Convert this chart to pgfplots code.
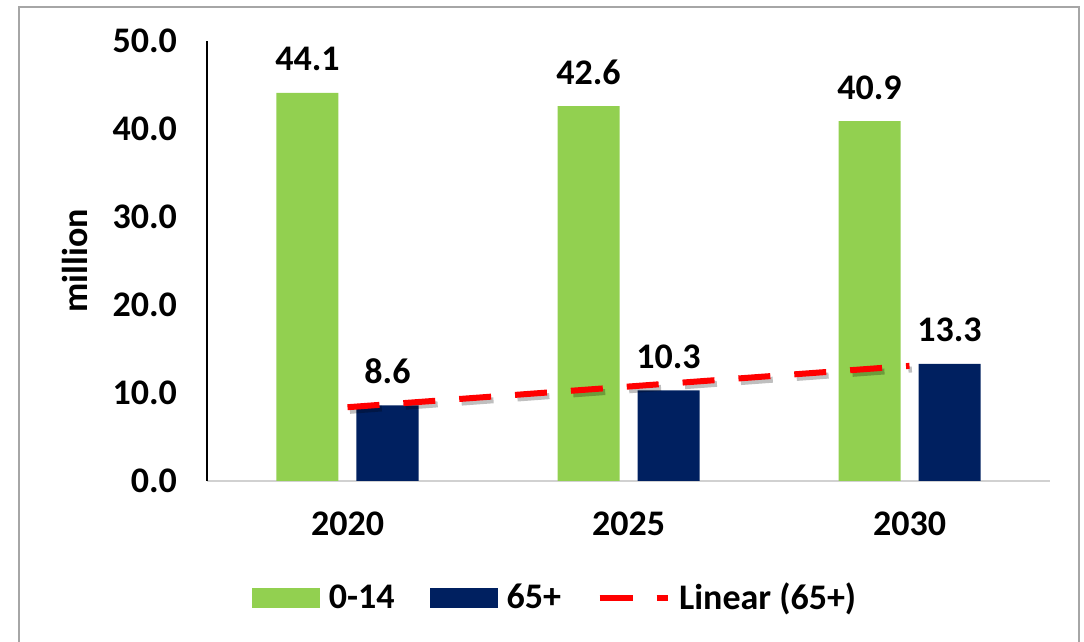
\documentclass[border=0pt]{standalone}
\usepackage{fontspec}
\setmainfont{Carlito}
\usepackage{pgfplots}
\pgfplotsset{compat=1.18}
\definecolor{cgreen}{HTML}{92D050}
\definecolor{cnavy}{HTML}{002060}
\definecolor{cframe}{HTML}{A6A6A6}
\definecolor{cred}{HTML}{FF0000}
\pgfplotsset{
  barlegend/.style={legend image code/.code={\fill[##1] (0pt,-5pt) rectangle (34pt,5pt);}},
  trendlegend/.style={legend image code/.code={\draw[##1, line width=3pt, dash pattern=on 16.5pt off 12pt on 5.5pt off 10pt] (0pt,0pt) -- (34pt,0pt);}},
  barlabels/.style={forget plot, draw=none, mark=none,
    nodes near coords={\pgfmathprintnumber[fixed,fixed zerofill,precision=1]{\pgfplotspointmeta}},
    nodes near coords style={font=\bfseries\fontsize{18}{20}\selectfont, text=black, anchor=base, yshift=11pt}},
}
\begin{document}
\begin{tikzpicture}
\useasboundingbox (0,0) rectangle (542pt,321pt);
\draw[cframe, line width=0.8pt] (9.5pt,0) -- (9.5pt,317.5pt) -- (539.5pt,317.5pt) -- (539.5pt,0);
\begin{axis}[
  at={(103.5pt,80.5pt)}, anchor=south west,
  scale only axis, width=421.5pt, height=220pt,
  xmin=-0.5, xmax=2.5, ymin=0, ymax=50,
  xtick={0,1,2}, xticklabels={2020,2025,2030},
  ytick={0,10,20,30,40,50},
  /pgf/number format/assume math mode=true,
  yticklabel={\pgfmathprintnumber[fixed,fixed zerofill,precision=1]{\tick}},
  axis lines=left, axis line style={-},
  x axis line style={draw=black!18, line width=0.8pt},
  y axis line style={draw=black, line width=0.8pt},
  major tick length=0pt,
  tick label style={font=\bfseries\fontsize{18}{20}\selectfont},
  yticklabel style={xshift=-11.5pt},
  xticklabel style={yshift=-12pt},
  ylabel={million},
  ylabel style={at={(axis description cs:-0.157,0.5)}, anchor=center, font=\bfseries\fontsize{18}{20}\selectfont},
  clip=false,
  legend style={at={(axis description cs:0.0534,-0.266)}, anchor=west, draw=none, fill=none,
    legend columns=3, font=\bfseries\fontsize{18}{20}\selectfont,
    /tikz/every odd column/.append style={column sep=2.5pt},
    /tikz/every even column/.append style={column sep=16pt},
    inner sep=0pt, nodes={inner xsep=1.75pt, inner ysep=1pt}},
]
\addplot[ybar, bar width=31pt, bar shift=-20pt, fill=cgreen, draw=none, barlegend]
  coordinates {(0,44.1) (1,42.6) (2,40.9)};
\addlegendentry{0-14}
\addplot[ybar, bar width=31pt, bar shift=20pt, fill=cnavy, draw=none, barlegend]
  coordinates {(0,8.6) (1,10.3) (2,13.3)};
\addlegendentry{65+}
\addplot[forget plot, black, opacity=0.25, line width=3pt, dash pattern=on 16pt off 12pt,
  transform canvas={xshift=1.2pt,yshift=-1.8pt}]
  coordinates {(0,8.383) (2,13.083)};
\addplot[cred, line width=3pt, dash pattern=on 16pt off 12pt, trendlegend]
  coordinates {(0,8.383) (2,13.083)};
\addlegendentry{Linear (65+)}
% data labels above the bars (x offset = bar shift of 20pt in axis units)
\addplot[barlabels] coordinates {(-0.1423,44.1) (0.8577,42.6) (1.8577,40.9)};
\addplot[barlabels] coordinates {(0.1423,8.6) (1.1423,10.3) (2.1423,13.3)};
\end{axis}
\end{tikzpicture}
\end{document}
